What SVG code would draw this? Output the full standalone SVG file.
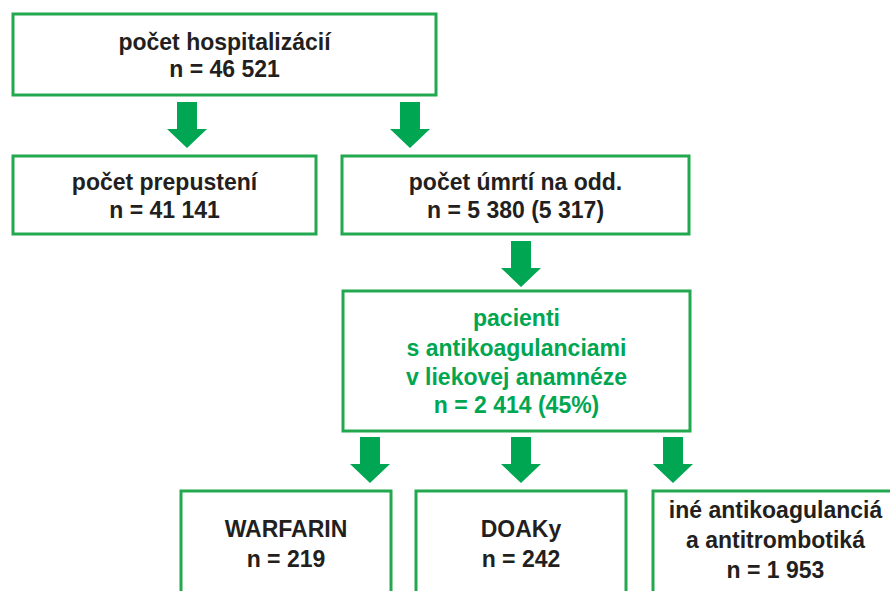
<svg xmlns="http://www.w3.org/2000/svg" xmlns:xlink="http://www.w3.org/1999/xlink" width="890" height="591" viewBox="0 0 890 591">
<style>
.box{fill:#fff;stroke:#22a84f;stroke-width:3}
.t{font-family:"Liberation Sans",Arial,sans-serif;font-weight:bold;font-size:23px;fill:#231f20;text-anchor:middle}
.g{fill:#00a651}
.arrow{fill:#00a651}
</style>
<defs>
<polygon id="arr" points="-10,0 10,0 10,27 20,27 0,46 -20,27 -10,27"/>
</defs>
<rect width="890" height="591" fill="#fff"/>
<g id="connectors">
<use xlink:href="#arr" class="arrow" transform="translate(187,102)"/>
<use xlink:href="#arr" class="arrow" transform="translate(410,102)"/>
<use xlink:href="#arr" class="arrow" transform="translate(521,241)"/>
<use xlink:href="#arr" class="arrow" transform="translate(370,437)"/>
<use xlink:href="#arr" class="arrow" transform="translate(521,437)"/>
<use xlink:href="#arr" class="arrow" transform="translate(673,437)"/>
</g>
<g id="hosp">
<rect class="box" x="13" y="14" width="423" height="81"/>
<text class="t" x="224.5" y="50">počet hospitalizácií</text>
<text class="t" x="224.5" y="77">n = 46 521</text>
</g>
<g id="prepust">
<rect class="box" x="13" y="156" width="303" height="78"/>
<text class="t" x="164.5" y="190">počet prepustení</text>
<text class="t" x="164.5" y="218">n = 41 141</text>
</g>
<g id="umrti">
<rect class="box" x="342" y="156" width="347" height="78"/>
<text class="t" x="515.5" y="190">počet úmrtí na odd.</text>
<text class="t" x="515.5" y="218">n = 5 380 (5 317)</text>
</g>
<g id="pacienti">
<rect class="box" x="343" y="291" width="347" height="140"/>
<text class="t g" x="516.5" y="326">pacienti</text>
<text class="t g" x="516.5" y="356">s antikoagulanciami</text>
<text class="t g" x="516.5" y="385">v liekovej anamnéze</text>
<text class="t g" x="516.5" y="413">n = 2 414 (45%)</text>
</g>
<g id="warfarin">
<rect class="box" x="181" y="491" width="210" height="110"/>
<text class="t" x="286" y="537">WARFARIN</text>
<text class="t" x="286" y="567">n = 219</text>
</g>
<g id="doaky">
<rect class="box" x="416" y="491" width="210" height="110"/>
<text class="t" x="521" y="537">DOAKy</text>
<text class="t" x="521" y="567">n = 242</text>
</g>
<g id="ine">
<rect class="box" x="653" y="491" width="250" height="110"/>
<text class="t" x="775.5" y="518">iné antikoagulanciá</text>
<text class="t" x="775.5" y="548">a antitrombotiká</text>
<text class="t" x="775.5" y="578">n = 1 953</text>
</g>
</svg>
